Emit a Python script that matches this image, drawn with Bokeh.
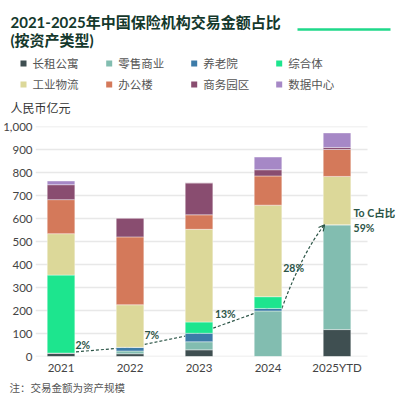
from bokeh.plotting import figure
from bokeh.layouts import column, row
from bokeh.models import (Arrow, OpenHead, FixedTicker, NumeralTickFormatter,
                          Range1d, ColumnDataSource)
from bokeh.core.properties import value
from bokeh.embed import file_html
from bokeh.resources import INLINE

# ---------------- data ----------------
years = ["2021", "2022", "2023", "2024", "2025YTD"]
categories = ["长租公寓", "零售商业", "养老院", "综合体", "工业物流", "办公楼", "商务园区", "数据中心"]
long_rent = [15, 12, 29, 0, 117]
retail = [0, 12, 35, 198, 456]
elderly = [0, 16, 37, 11, 0]
mixed_use = [339, 0, 49, 51, 0]
logistics = [180, 185, 403, 398, 210]
office = [148, 295, 63, 127, 117]
biz_park = [65, 82, 139, 27, 9]
data_center = [16, 0, 0, 55, 63]
toc_share_labels = ["2%", "7%", "13%", "28%", "To C占比\n59%"]
y_ticks = [0, 100, 200, 300, 400, 500, 600, 700, 800, 900, 1000]

colors = ["#3f4f51", "#82bdb0", "#3c7ba8", "#1de58e",
          "#dcd899", "#d4795a", "#894d70", "#a688c6"]
FONT = "Lato, Noto Sans CJK SC"
DARK = "#2c5547"

series = [long_rent, retail, elderly, mixed_use, logistics, office, biz_park, data_center]
xs = list(range(len(years)))
src = ColumnDataSource(dict(x=xs, **{c: s for c, s in zip(categories, series)}))
toc = [a + b + c for a, b, c in zip(long_rent, retail, elderly)]

W = 400
HEAD_H = 116
MAIN_H = 260
FOOT_H = 21


def bare(h):
    fig = figure(width=W, height=h, output_backend="svg", toolbar_location=None,
                 x_range=Range1d(0, W), y_range=Range1d(h, 0),
                 x_axis_location=None, y_axis_location=None,
                 min_border_left=0, min_border_right=0, min_border_top=0, min_border_bottom=0)
    fig.grid.grid_line_color = None
    fig.outline_line_color = None
    fig.background_fill_color = "white"
    fig.border_fill_color = "white"
    return fig


# ---------------- header ----------------
head = bare(HEAD_H)
head.text(x=[10, 10], y=[21, 39], text=["2021-2025年中国保险机构交易金额占比", "(按资产类型)"],
          text_font=value(FONT), text_font_size="15px", text_font_style="bold",
          text_color="#14382c", text_align="left", text_baseline="middle")
head.line(x=[297, 390], y=[29, 29], line_color="#1fd88a", line_width=2.5)

col_px = [20, 105.7, 190.7, 275.7]
row_py = [63, 84]
leg_x = [col_px[k % 4] for k in range(len(categories))]
leg_y = [row_py[k // 4] for k in range(len(categories))]
head.scatter(x=[v + 3 for v in leg_x], y=leg_y, marker="square", size=6,
             fill_color=colors, line_color=None)
head.text(x=[v + 12 for v in leg_x], y=leg_y, text=categories, text_font=value(FONT),
          text_font_size="11.5px", text_color="#555555", text_align="left",
          text_baseline="middle")
head.text(x=[10], y=[108], text=["人民币亿元"], text_font=value(FONT), text_font_size="12px",
          text_color="#333333", text_align="left", text_baseline="middle")

# ---------------- main chart ----------------
FL, FR_GRID = 35, 367
PPX = 69.0
X0 = -0.37
X_GRID_END = X0 + (FR_GRID - FL) / PPX
X1 = X0 + (W - 5 - FL) / PPX

p = figure(width=W, height=MAIN_H, output_backend="svg", toolbar_location=None,
           x_range=Range1d(X0, X1), y_range=Range1d(0, 1000),
           min_border_left=FL, min_border_right=5, min_border_top=10, min_border_bottom=20)
p.outline_line_color = None
p.background_fill_color = "white"
p.border_fill_color = "white"
p.grid.grid_line_color = None

# grid lines (stop short of the annotation area on the right)
p.segment(x0=[X0] * len(y_ticks), x1=[X_GRID_END] * len(y_ticks), y0=y_ticks, y1=y_ticks,
          line_color="#e8e8e8", line_width=1.5)

# axes
p.yaxis.ticker = FixedTicker(ticks=y_ticks)
p.yaxis.formatter = NumeralTickFormatter(format="0,0")
p.xaxis.ticker = FixedTicker(ticks=xs)
p.xaxis.major_label_overrides = {i: y for i, y in enumerate(years)}
for ax in (p.xaxis[0], p.yaxis[0]):
    ax.axis_line_color = None
    ax.major_tick_line_color = None
    ax.minor_tick_line_color = None
    ax.major_tick_out = 0
    ax.major_tick_in = 0
    ax.minor_tick_out = 0
    ax.major_label_text_font = FONT
    ax.major_label_text_font_size = "11.5px"
    ax.major_label_text_color = "#444444"
p.yaxis.major_label_standoff = 3
p.xaxis.major_label_standoff = 4

# To C trend line (behind bars)
for i in range(3):
    p.line([xs[i], xs[i + 1]], [toc[i], toc[i + 1]], line_dash="3 2",
           line_color=DARK, line_width=1.2)
p.quadratic(x0=[xs[3] + 0.2], y0=[toc[3]], x1=[xs[4] - 0.18], y1=[toc[4]],
            cx=[xs[3] + 0.5], cy=[453], line_dash="3 2", line_color=DARK, line_width=1.2)

# bars
p.vbar_stack(categories, x="x", width=0.4, color=colors, source=src,
             line_color="white", line_width=0.4)

# arrow head
p.add_layout(Arrow(end=OpenHead(size=6, line_color=DARK, line_width=1.2),
                   x_start=xs[4] - 0.212, y_start=toc[4] - 12,
                   x_end=xs[4] - 0.18, y_end=toc[4],
                   line_color=DARK, line_width=1.2))

# share labels
lab_x = [0.21, 1.21, 2.23, 3.22, 4.24]
lab_y = [52, 93, 183, 383, 592]
p.text(x=lab_x, y=lab_y, text=toc_share_labels, text_font=value(FONT),
       text_font_size="10.5px", text_font_style="bold", text_color=DARK,
       text_align="left", text_baseline="middle", text_line_height=1.25)

# ---------------- footer ----------------
foot = bare(FOOT_H)
foot.text(x=[9], y=[11], text=["注：交易金额为资产规模"], text_font=value(FONT),
          text_font_size="10.5px", text_color="#555555", text_align="left",
          text_baseline="middle")

layout = column(row(head), row(p), row(foot), spacing=0)
open("out.html", "w").write(file_html(layout, INLINE))
